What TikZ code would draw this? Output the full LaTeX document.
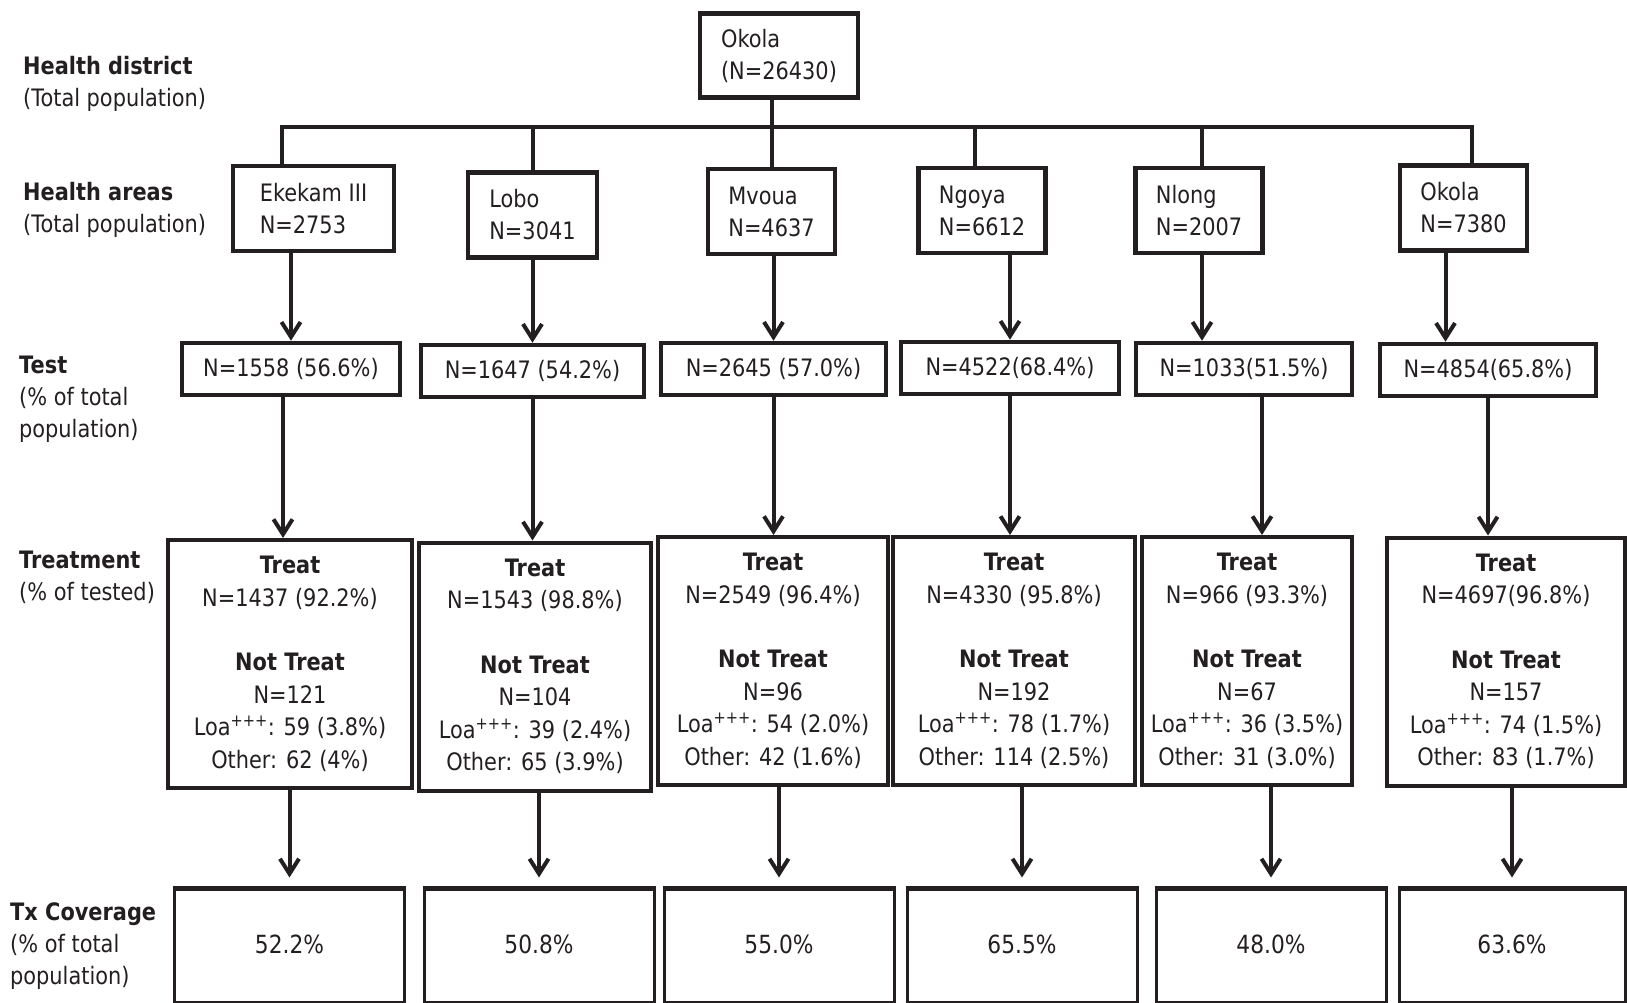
\documentclass[tikz,border=0pt]{standalone}
\usepackage{fontspec}
\setmainfont{DejaVu Sans}[FakeStretch=0.87]
\usetikzlibrary{arrows.meta}
\definecolor{ink}{RGB}{35,31,32}

\begin{document}
\begin{tikzpicture}[x=1pt, y=-1pt, font=\fontsize{24}{32}\selectfont, color=ink]
      \tikzstyle{box}=[rectangle,draw,line width=4.5pt,inner sep=0pt]
      \tikzstyle{area}=[box,align=left,minimum width=127pt,minimum height=85pt]
      \tikzstyle{test}=[box,minimum width=218pt,minimum height=52pt]
      \tikzstyle{treat}=[box,line width=4pt,align=center,minimum width=232pt,minimum height=248pt,font=\fontsize{24}{32.5}\selectfont]
      \tikzstyle{cover}=[box,line width=3pt,minimum width=230pt,minimum height=115pt,font=\fontsize{25}{32}\selectfont,
        path picture={\draw[line width=7pt] (path picture bounding box.north west) -- (path picture bounding box.north east);}]
      \tikzstyle{lbl}=[anchor=west,align=left,inner sep=0pt]
      \tikzstyle{link}=[line width=4pt]
      \tikzstyle{arr}=[line width=4pt,-{Straight Barb[length=15pt,width=19pt]}]

      \useasboundingbox (0,0) rectangle (1627,1003);

      % row labels
      \node[lbl] (lhd) at (23,83.5) {\textbf{Health district}\\(Total population)};
      \node[lbl] (lha) at (23,210) {\textbf{Health areas}\\(Total population)};
      \node[lbl] (lts) at (19,399) {\textbf{Test}\\(\% of total\\population)};
      \node[lbl] (ltr) at (19,577) {\textbf{Treatment}\\(\% of tested)};
      \node[lbl] (ltx) at (10,946) {\textbf{Tx Coverage}\\(\% of total\\population)};

      % district and health areas
      \node[area,minimum width=158pt,minimum height=84pt] (d) at (779,55.5) {Okola\\(N=26430)};
      \node[area,minimum width=161pt] (a1) at (313.5,208.5) {Ekekam III\\N=2753};
      \node[area,minimum width=129pt] (a2) at (532.5,215) {Lobo\\N=3041};
      \node[area] (a3) at (771.5,211.5) {Mvoua\\N=4637};
      \node[area] (a4) at (982,210.5) {Ngoya\\N=6612};
      \node[area] (a5) at (1199,210.5) {Nlong\\N=2007};
      \node[area] (a6) at (1463.5,208) {Okola\\N=7380};

      % tested
      \node[test] (t1) at (291,369) {N=1558 (56.6\%)};
      \node[test,minimum width=223pt] (t2) at (532.5,371) {N=1647 (54.2\%)};
      \node[test,minimum width=225pt] (t3) at (773.5,369) {N=2645 (57.0\%)};
      \node[test] (t4) at (1010,368) {N=4522(68.4\%)};
      \node[test,minimum width=216pt] (t5) at (1244,369) {N=1033(51.5\%)};
      \node[test,minimum width=216pt] (t6) at (1488,370) {N=4854(65.8\%)};

      % treatment
      \node[treat,minimum width=244pt] (tr1) at (290,664) {\textbf{Treat}\\N=1437 (92.2\%)\\[32pt]\textbf{Not Treat}\\N=121\\Loa\textsuperscript{+++}: 59 (3.8\%)\\Other: 62 (4\%)};
      \node[treat] (tr2) at (535,666.5) {\textbf{Treat}\\N=1543 (98.8\%)\\[32pt]\textbf{Not Treat}\\N=104\\Loa\textsuperscript{+++}: 39 (2.4\%)\\Other: 65 (3.9\%)};
      \node[treat,minimum width=230pt] (tr3) at (773,661) {\textbf{Treat}\\N=2549 (96.4\%)\\[32pt]\textbf{Not Treat}\\N=96\\Loa\textsuperscript{+++}: 54 (2.0\%)\\Other: 42 (1.6\%)};
      \node[treat,minimum width=242pt] (tr4) at (1014,661) {\textbf{Treat}\\N=4330 (95.8\%)\\[32pt]\textbf{Not Treat}\\N=192\\Loa\textsuperscript{+++}: 78 (1.7\%)\\Other: 114 (2.5\%)};
      \node[treat,minimum width=210pt] (tr5) at (1247,661) {\textbf{Treat}\\N=966 (93.3\%)\\[32pt]\textbf{Not Treat}\\N=67\\Loa\textsuperscript{+++}: 36 (3.5\%)\\Other: 31 (3.0\%)};
      \node[treat,minimum width=238pt] (tr6) at (1506,661.5) {\textbf{Treat}\\N=4697(96.8\%)\\[32pt]\textbf{Not Treat}\\N=157\\Loa\textsuperscript{+++}: 74 (1.5\%)\\Other: 83 (1.7\%)};

      % coverage
      \node[cover] (c1) at (289.5,944.5) {52.2\%};
      \node[cover] (c2) at (539,944.5) {50.8\%};
      \node[cover] (c3) at (779,944.5) {55.0\%};
      \node[cover] (c4) at (1022,944.5) {65.5\%};
      \node[cover] (c5) at (1271,944.5) {48.0\%};
      \node[cover,minimum width=226pt] (c6) at (1512,944.5) {63.6\%};

      % tree
      \coordinate (bus) at (0,126.6);
      \draw[link] (a3.north |- d.south) -- (a3.north);
      \draw[link] ([xshift=-32pt]a1.north) |- ([xshift=8pt]a6.north |- bus) -- ([xshift=8pt]a6.north);
      \draw[link] (a2.north) -- (a2.north |- bus);
      \draw[link] ([xshift=-7pt]a4.north) -- ([xshift=-7pt]a4.north |- bus);
      \draw[link] ([xshift=3pt]a5.north) -- ([xshift=3pt]a5.north |- bus);

      % arrows
      \draw[arr] (t1.north |- a1.south) -- (t1.north);
      \draw[arr] (a2.south) -- (a2.south |- t2.north);
      \draw[arr] (t3.north |- a3.south) -- (t3.north);
      \draw[arr] (t4.north |- a4.south) -- (t4.north);
      \draw[arr] ([xshift=3pt]a5.south) -- ([xshift=3pt]a5.south |- t5.north);
      \draw[arr] ([xshift=-18pt]a6.south) -- ([xshift=-18pt]a6.south |- t6.north);

      \draw[arr] ([xshift=-8pt]t1.south) -- ([xshift=-8pt]t1.south |- tr1.north);
      \draw[arr] (t2.south) -- (t2.south |- tr2.north);
      \draw[arr] (t3.south) -- (t3.south |- tr3.north);
      \draw[arr] (t4.south) -- (t4.south |- tr4.north);
      \draw[arr] ([xshift=18pt]t5.south) -- ([xshift=18pt]t5.south |- tr5.north);
      \draw[arr] (t6.south) -- (t6.south |- tr6.north);

      \draw[arr,shorten >=8pt] (c1.north |- tr1.south) -- (c1.north);
      \draw[arr,shorten >=8pt] (c2.north |- tr2.south) -- (c2.north);
      \draw[arr,shorten >=8pt] (c3.north |- tr3.south) -- (c3.north);
      \draw[arr,shorten >=8pt] (c4.north |- tr4.south) -- (c4.north);
      \draw[arr,shorten >=8pt] (c5.north |- tr5.south) -- (c5.north);
      \draw[arr,shorten >=8pt] (c6.north |- tr6.south) -- (c6.north);
    \end{tikzpicture}
\end{document}
